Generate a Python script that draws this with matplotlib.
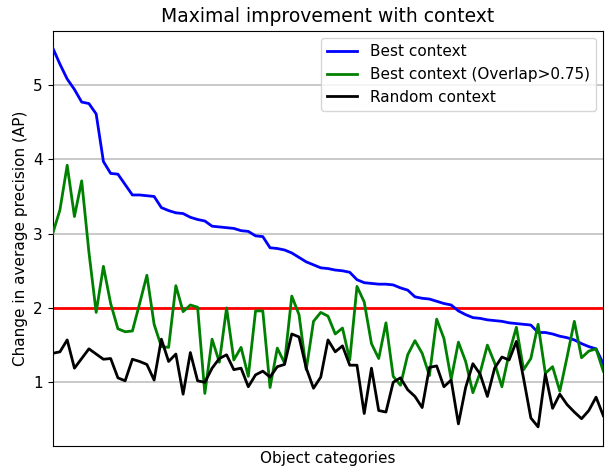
import matplotlib
matplotlib.use("Agg")
import matplotlib.pyplot as plt
import numpy as np

best_context = [5.50, 5.28, 5.08, 4.94, 4.77, 4.75, 4.61, 3.97, 3.81, 3.80,
                3.66, 3.52, 3.52, 3.51, 3.50, 3.35, 3.31, 3.28, 3.27, 3.22,
                3.19, 3.17, 3.10, 3.09, 3.08, 3.07, 3.04, 3.03, 2.97, 2.96,
                2.81, 2.80, 2.78, 2.74, 2.68, 2.62, 2.58, 2.54, 2.53, 2.51,
                2.50, 2.48, 2.38, 2.34, 2.33, 2.32, 2.32, 2.31, 2.27, 2.24,
                2.15, 2.13, 2.12, 2.09, 2.06, 2.04, 1.96, 1.91, 1.87, 1.86,
                1.84, 1.83, 1.82, 1.80, 1.79, 1.78, 1.77, 1.67, 1.67, 1.65,
                1.62, 1.60, 1.57, 1.52, 1.48, 1.45, 1.25]

best_overlap = [3.00, 3.32, 3.92, 3.23, 3.71, 2.75, 1.94, 2.56, 2.06, 1.72,
                1.68, 1.69, 2.06, 2.44, 1.78, 1.48, 1.47, 2.30, 1.95, 2.04,
                2.01, 0.85, 1.58, 1.27, 2.00, 1.30, 1.47, 1.08, 1.96, 1.96,
                0.93, 1.46, 1.26, 2.16, 1.91, 1.17, 1.82, 1.94, 1.89, 1.65,
                1.73, 1.30, 2.29, 2.08, 1.52, 1.32, 1.80, 1.08, 0.96, 1.37,
                1.56, 1.39, 1.09, 1.85, 1.59, 1.04, 1.54, 1.28, 0.86, 1.13,
                1.50, 1.26, 0.94, 1.39, 1.74, 1.17, 1.32, 1.78, 1.12, 1.21,
                0.88, 1.34, 1.82, 1.33, 1.42, 1.45, 1.15]

random_context = [1.39, 1.41, 1.57, 1.19, 1.32, 1.45, 1.38, 1.31, 1.32, 1.06,
                  1.02, 1.31, 1.28, 1.24, 1.03, 1.58, 1.28, 1.38, 0.84, 1.40,
                  1.02, 1.00, 1.19, 1.32, 1.37, 1.17, 1.19, 0.94, 1.10, 1.15,
                  1.07, 1.21, 1.24, 1.65, 1.61, 1.19, 0.92, 1.07, 1.57, 1.41,
                  1.49, 1.23, 1.23, 0.58, 1.19, 0.62, 0.60, 1.00, 1.06, 0.90,
                  0.81, 0.66, 1.20, 1.22, 0.94, 1.03, 0.44, 0.93, 1.25, 1.11,
                  0.81, 1.19, 1.34, 1.30, 1.55, 1.05, 0.52, 0.40, 1.11, 0.65,
                  0.84, 0.70, 0.60, 0.51, 0.62, 0.80, 0.55]

threshold = 2.0
yticks = [1, 2, 3, 4, 5]

fig = plt.figure(figsize=(6.08, 4.67), dpi=100)
ax = fig.add_axes([52.7/608, 1-445.7/467, (603.3-52.7)/608, (445.7-30.7)/467])

x = np.arange(len(best_context))
ax.grid(axis="y", color="#c0c0c0", linewidth=1.2, zorder=0)
ax.axhline(threshold, color="red", linewidth=2, zorder=1)
ax.plot(x, best_context, color="blue", linewidth=2, label="Best context", zorder=3)
ax.plot(x, best_overlap, color="green", linewidth=2, label="Best context (Overlap>0.75)", zorder=3)
ax.plot(x, random_context, color="black", linewidth=2, label="Random context", zorder=3)

ax.set_xlim(0, len(x) - 1)
ax.set_ylim(0.147, 5.73)
ax.set_xticks([])
ax.set_yticks(yticks)
ax.tick_params(axis="y", labelsize=11)
ax.set_axisbelow(True)
ax.set_title("Maximal improvement with context", fontsize=13.5)
ax.set_xlabel("Object categories", fontsize=11)
ax.set_ylabel("Change in average precision (AP)", fontsize=11)
ax.legend(loc="upper right", fontsize=11)

fig.savefig("out.png", dpi=100)
